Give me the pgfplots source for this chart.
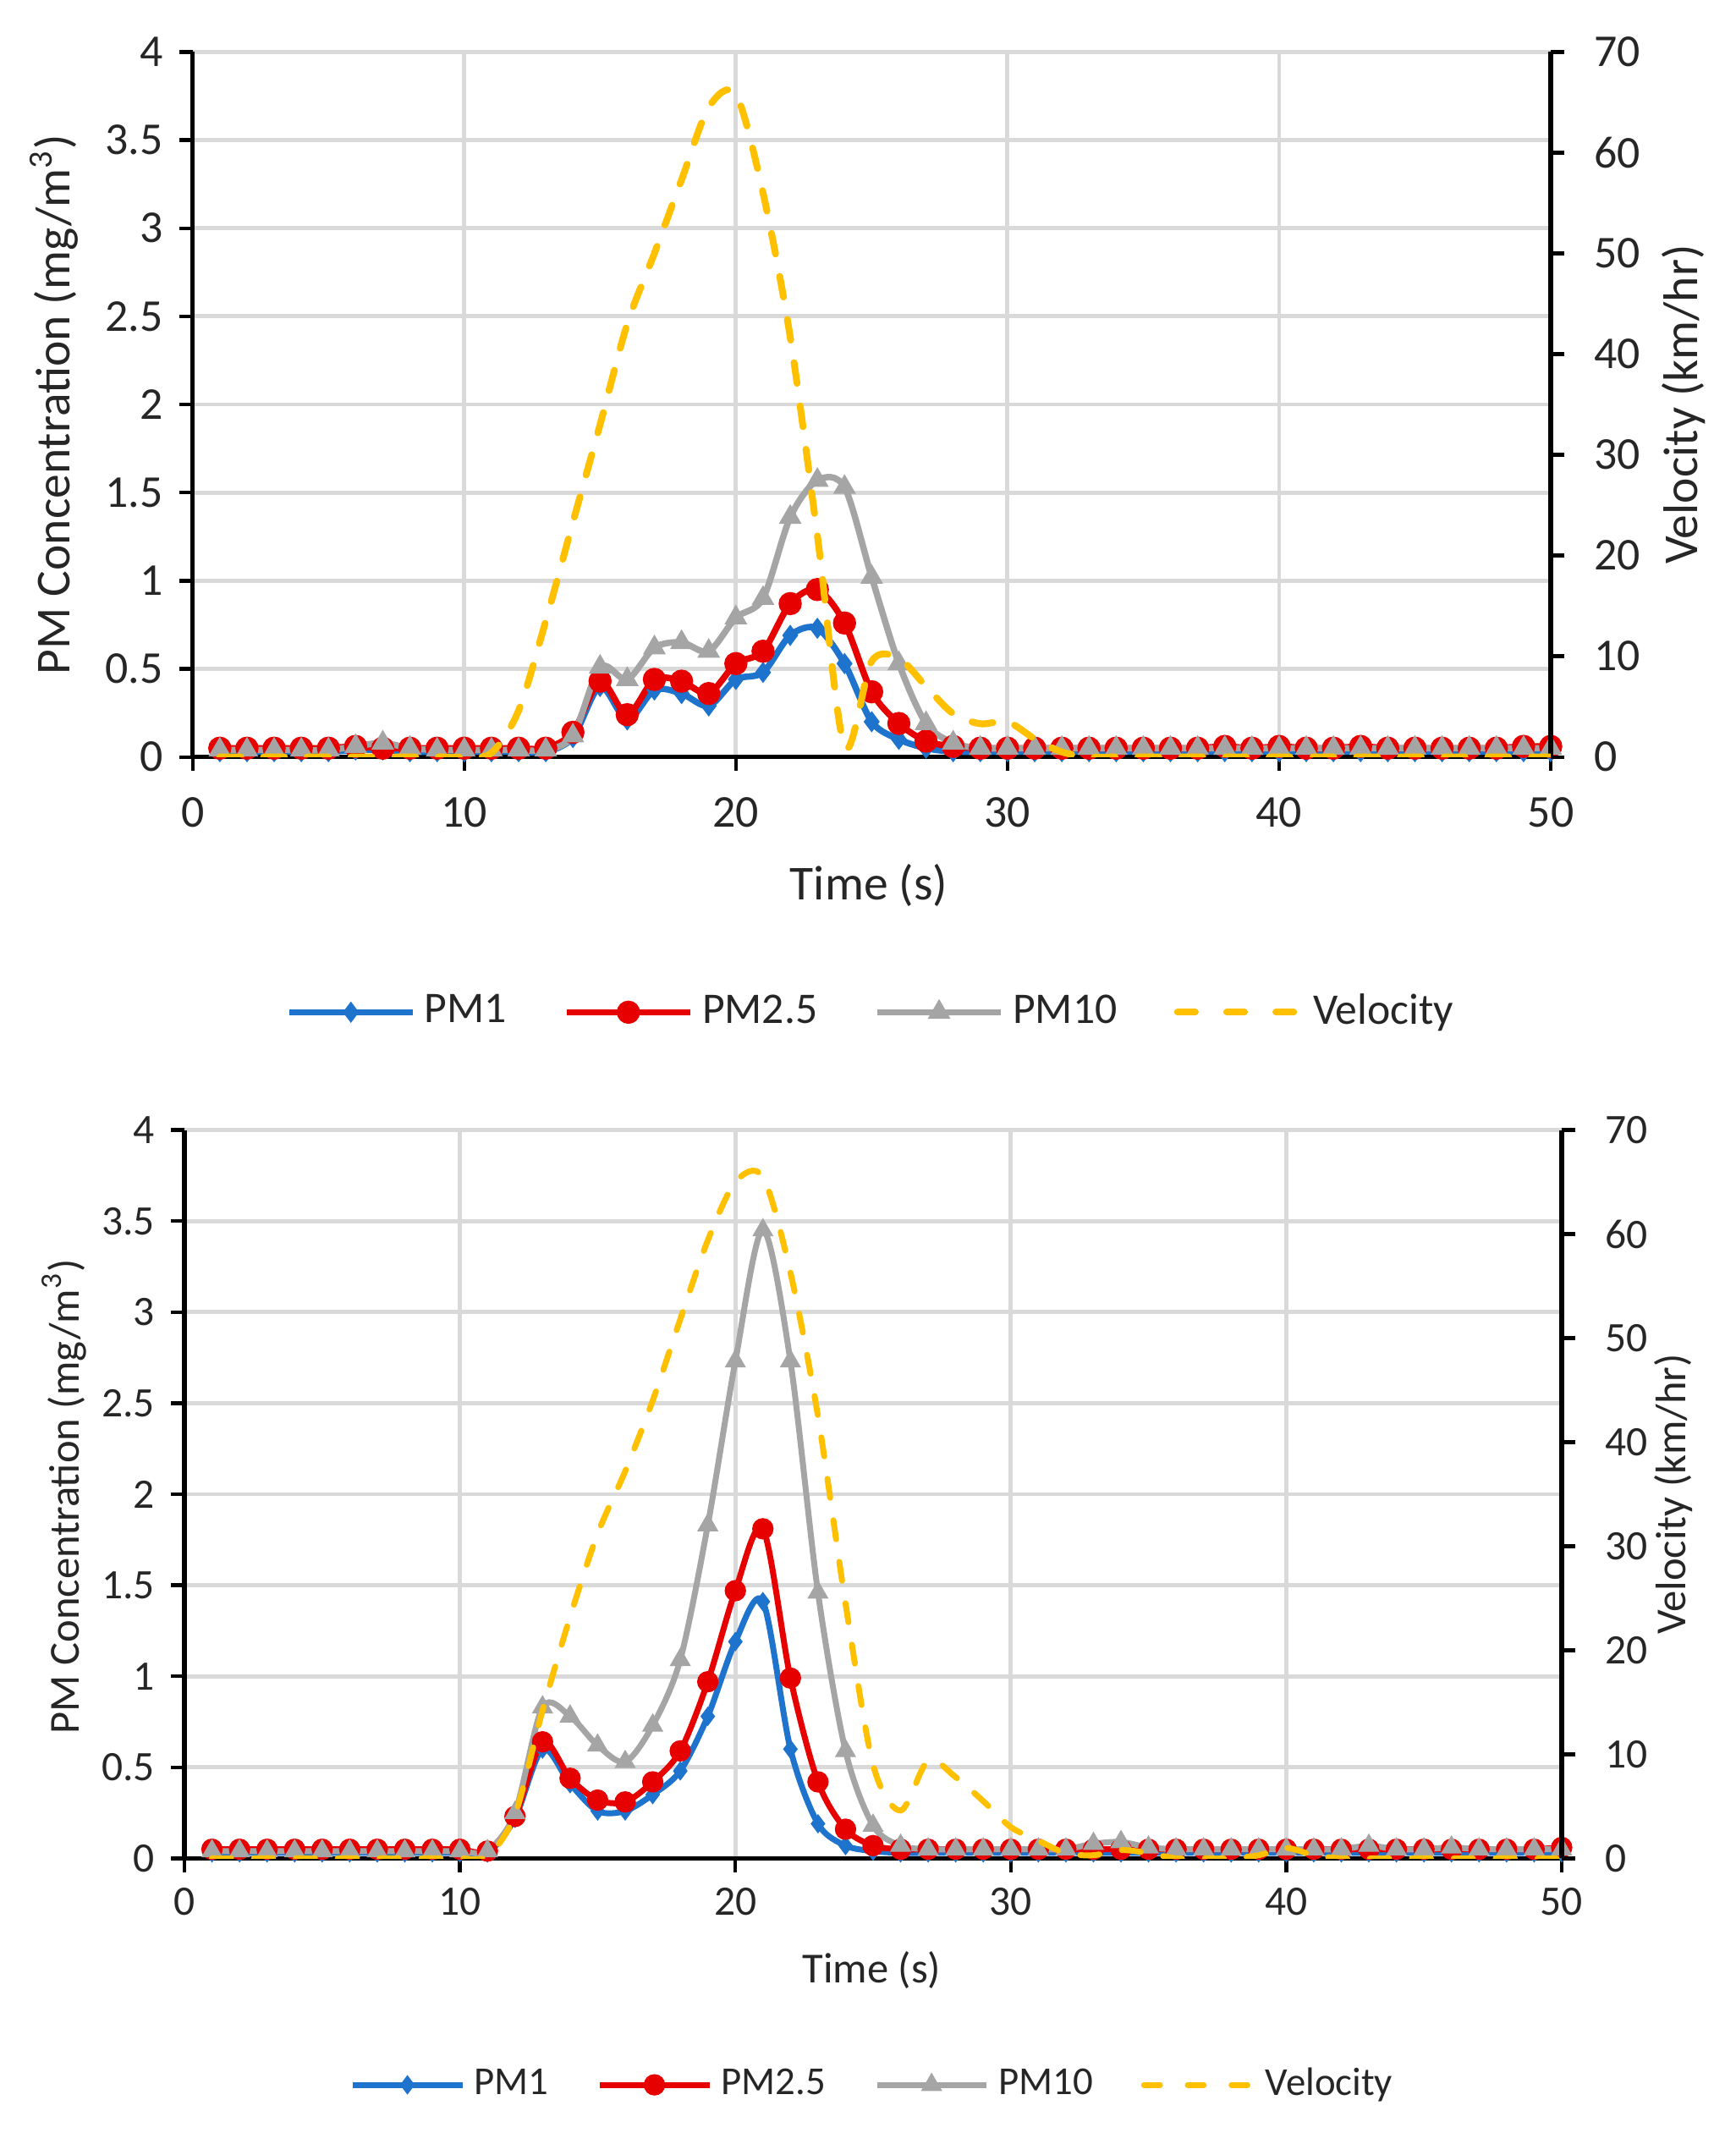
\documentclass[border=0pt]{standalone}
\usepackage{fontspec}
\setmainfont{Carlito}
\usepackage{pgfplots}
\pgfplotsset{compat=1.18}
\usepackage{pgfplotstable}

\definecolor{pmblue}{RGB}{30,115,205}
\definecolor{pmred}{RGB}{230,0,0}
\definecolor{pmgray}{RGB}{165,165,165}
\definecolor{velyel}{RGB}{255,192,0}
\definecolor{gridgray}{RGB}{217,217,217}

\pgfplotstableread{
t pmone pmtwo pmten vel
1 0.03 0.05 0.04 0
2 0.03 0.05 0.04 0
3 0.03 0.05 0.04 0
4 0.03 0.05 0.04 0
5 0.03 0.05 0.04 0
6 0.04 0.06 0.06 0
7 0.04 0.05 0.08 0
8 0.03 0.05 0.05 0
9 0.03 0.05 0.04 0
10 0.03 0.05 0.04 0
11 0.03 0.05 0.04 0.4
12 0.03 0.05 0.04 4.6
13 0.03 0.05 0.04 13.5
14 0.11 0.14 0.12 23.3
15 0.40 0.43 0.51 33
16 0.21 0.24 0.44 43
17 0.38 0.44 0.62 50
18 0.36 0.43 0.65 57.3
19 0.29 0.36 0.60 64.5
20 0.44 0.53 0.79 65.8
21 0.48 0.60 0.90 56
22 0.69 0.87 1.36 41.7
23 0.73 0.95 1.57 22
24 0.53 0.76 1.53 1
25 0.20 0.37 1.02 9.5
26 0.10 0.19 0.53 9.8
27 0.05 0.09 0.19 7
28 0.03 0.06 0.08 4.3
29 0.03 0.05 0.05 3.3
30 0.03 0.05 0.05 3.5
31 0.03 0.05 0.05 1.8
32 0.03 0.05 0.05 0.5
33 0.03 0.05 0.05 0
34 0.03 0.05 0.05 0
35 0.03 0.05 0.05 0
36 0.03 0.05 0.05 0
37 0.03 0.05 0.05 0
38 0.03 0.06 0.05 0
39 0.03 0.05 0.05 0
40 0.03 0.06 0.05 0
41 0.03 0.05 0.05 0
42 0.03 0.05 0.05 0
43 0.03 0.06 0.05 0
44 0.03 0.05 0.05 0
45 0.03 0.05 0.05 0
46 0.03 0.05 0.05 0
47 0.03 0.05 0.05 0
48 0.03 0.05 0.05 0
49 0.03 0.06 0.05 0
50 0.03 0.06 0.05 0
}\topdata

\pgfplotstableread{
t pmone pmtwo pmten vel
1 0.03 0.05 0.04 0
2 0.03 0.05 0.04 0
3 0.03 0.05 0.04 0
4 0.03 0.05 0.04 0
5 0.03 0.05 0.04 0
6 0.03 0.05 0.04 0
7 0.03 0.05 0.04 0
8 0.03 0.05 0.04 0
9 0.03 0.05 0.04 0
10 0.03 0.05 0.04 0
11 0.03 0.04 0.04 0.2
12 0.22 0.23 0.25 4.2
13 0.60 0.64 0.83 14.2
14 0.41 0.44 0.78 23.2
15 0.26 0.32 0.62 31.2
16 0.26 0.31 0.53 37.2
17 0.35 0.42 0.73 44.0
18 0.48 0.59 1.09 51.8
19 0.78 0.97 1.83 59.4
20 1.19 1.47 2.73 65.0
21 1.41 1.81 3.45 65.5
22 0.60 0.99 2.73 56.3
23 0.19 0.42 1.46 42.5
24 0.07 0.16 0.59 24.5
25 0.04 0.07 0.18 9.0
26 0.03 0.05 0.07 4.6
27 0.03 0.05 0.05 9.4
28 0.03 0.05 0.05 7.8
29 0.03 0.05 0.05 5.5
30 0.03 0.05 0.05 3.0
31 0.03 0.05 0.05 1.7
32 0.03 0.05 0.05 0.5
33 0.03 0.05 0.08 0.3
34 0.03 0.05 0.09 0.8
35 0.03 0.05 0.06 0.5
36 0.03 0.05 0.05 0
37 0.03 0.05 0.05 0
38 0.03 0.05 0.05 0
39 0.03 0.05 0.05 0.3
40 0.03 0.05 0.05 1.0
41 0.03 0.05 0.05 0.3
42 0.03 0.05 0.05 0
43 0.03 0.05 0.07 0
44 0.03 0.05 0.05 0
45 0.03 0.05 0.05 0
46 0.03 0.05 0.06 0
47 0.03 0.05 0.05 0
48 0.03 0.05 0.05 0
49 0.03 0.05 0.05 0
50 0.03 0.06 0.05 0
}\botdata

\pgfplotsset{
  base/.style={
    scale only axis, xmin=0, xmax=50,
    /pgf/number format/assume math mode=true,
    tick align=outside, major tick length=3pt,
    tick style={black, line width=0.8pt},
    axis line style={black, line width=1pt},
    clip=true,
  },
}

\begin{document}
\begin{tikzpicture}
\useasboundingbox (0,0) rectangle (381pt,468.3pt);

% ================= TOP CHART =================
\begin{axis}[base,
  at={(42.3pt,302.1pt)}, anchor=south west,
  width=298.2pt, height=154.8pt,
  ymin=0, ymax=4, ytick={0,0.5,...,4}, xtick={0,10,...,50},
  axis x line*=bottom, axis y line*=left,
  grid=major, grid style={gridgray, line width=0.9pt},
  ticklabel style={font=\fontsize{10}{10}\selectfont, text=black!85},
  xticklabel style={yshift=-2.4pt},
  xlabel={Time (s)}, ylabel={PM Concentration (mg/m\textsuperscript{3})},
  label style={font=\fontsize{10.7}{12}\selectfont, text=black!85},
  xlabel style={at={(axis description cs:0.498,-0.182)}, anchor=center},
  ylabel style={at={(axis description cs:-0.102,0.5)}, anchor=center},
  legend columns=4,
  legend style={draw=none, fill=none, at={(0.502,-0.362)}, anchor=center,
    font=\fontsize{9.6}{11}\selectfont, text=black!85,
    /tikz/every even column/.append style={column sep=10.5pt}},
  legend cell align=left,
  legend image code/.code={\draw[mark repeat=2,mark phase=2] plot coordinates {(0pt,0pt) (13.5pt,0pt) (27pt,0pt)};},
]
\addplot[pmblue, line width=1.4pt, smooth, mark=diamond*, mark size=2.1pt, mark options={solid, line width=0.3pt}] table[x=t,y=pmone]{\topdata};
\addlegendentry{PM1}
\addplot[pmred, line width=1.4pt, smooth, mark=*, mark size=2.4pt, mark options={solid, line width=0.3pt}] table[x=t,y=pmtwo]{\topdata};
\addlegendentry{PM2.5}
\addplot[pmgray, line width=1.4pt, smooth, mark=triangle*, mark size=2.6pt, mark options={solid, line width=0.3pt}] table[x=t,y=pmten]{\topdata};
\addlegendentry{PM10}
\addlegendimage{velyel, line width=1.5pt, dash pattern=on 3.9pt off 6.9pt, line cap=round}
\addlegendentry{Velocity}
\end{axis}

\begin{axis}[base,
  at={(42.3pt,302.1pt)}, anchor=south west,
  width=298.2pt, height=154.8pt,
  ymin=0, ymax=70, ytick={0,10,...,70},
  axis y line*=right, axis x line=none,
  ticklabel style={font=\fontsize{10}{10}\selectfont, text=black!85},
  yticklabel style={xshift=3pt},
  ylabel={Velocity (km/hr)},
  label style={font=\fontsize{10.7}{12}\selectfont, text=black!85},
  ylabel style={at={(axis description cs:1.0976,0.5)}, anchor=center},
]
\addplot[velyel, line width=1.5pt, dash pattern=on 4.6pt off 5pt, line cap=round, smooth] table[x=t,y=vel]{\topdata};
\end{axis}

% ================= BOTTOM CHART =================
\begin{axis}[base,
  at={(40.5pt,60.3pt)}, anchor=south west,
  width=302.4pt, height=159.9pt,
  ymin=0, ymax=4, ytick={0,0.5,...,4}, xtick={0,10,...,50},
  axis x line*=bottom, axis y line*=left,
  grid=major, grid style={gridgray, line width=0.9pt},
  ticklabel style={font=\fontsize{9.2}{10}\selectfont, text=black!85},
  xlabel={Time (s)}, ylabel={PM Concentration (mg/m\textsuperscript{3})},
  label style={font=\fontsize{9.4}{11}\selectfont, text=black!85},
  xlabel style={at={(axis description cs:0.499,-0.154)}, anchor=center},
  ylabel style={at={(axis description cs:-0.0873,0.497)}, anchor=center},
  legend columns=4,
  legend style={draw=none, fill=none, at={(0.502,-0.311)}, anchor=center,
    font=\fontsize{8.7}{10}\selectfont, text=black!85,
    /tikz/every even column/.append style={column sep=8.6pt}},
  legend cell align=left,
  legend image code/.code={\draw[mark repeat=2,mark phase=2] plot coordinates {(0pt,0pt) (12pt,0pt) (24pt,0pt)};},
]
\addplot[pmblue, line width=1.3pt, smooth, mark=diamond*, mark size=1.9pt, mark options={solid, line width=0.3pt}] table[x=t,y=pmone]{\botdata};
\addlegendentry{PM1}
\addplot[pmred, line width=1.3pt, smooth, mark=*, mark size=2.2pt, mark options={solid, line width=0.3pt}] table[x=t,y=pmtwo]{\botdata};
\addlegendentry{PM2.5}
\addplot[pmgray, line width=1.3pt, smooth, mark=triangle*, mark size=2.4pt, mark options={solid, line width=0.3pt}] table[x=t,y=pmten]{\botdata};
\addlegendentry{PM10}
\addlegendimage{velyel, line width=1.3pt, dash pattern=on 3.5pt off 6.1pt, line cap=round}
\addlegendentry{Velocity}
\end{axis}

\begin{axis}[base,
  at={(40.5pt,60.3pt)}, anchor=south west,
  width=302.4pt, height=159.9pt,
  ymin=0, ymax=70, ytick={0,10,...,70},
  axis y line*=right, axis x line=none,
  ticklabel style={font=\fontsize{9.2}{10}\selectfont, text=black!85},
  yticklabel style={xshift=3pt},
  ylabel={Velocity (km/hr)},
  label style={font=\fontsize{9.4}{11}\selectfont, text=black!85},
  ylabel style={at={(axis description cs:1.081,0.5)}, anchor=center},
]
\addplot[velyel, line width=1.3pt, dash pattern=on 4.2pt off 5pt, line cap=round, smooth] table[x=t,y=vel]{\botdata};
\end{axis}
\end{tikzpicture}
\end{document}
